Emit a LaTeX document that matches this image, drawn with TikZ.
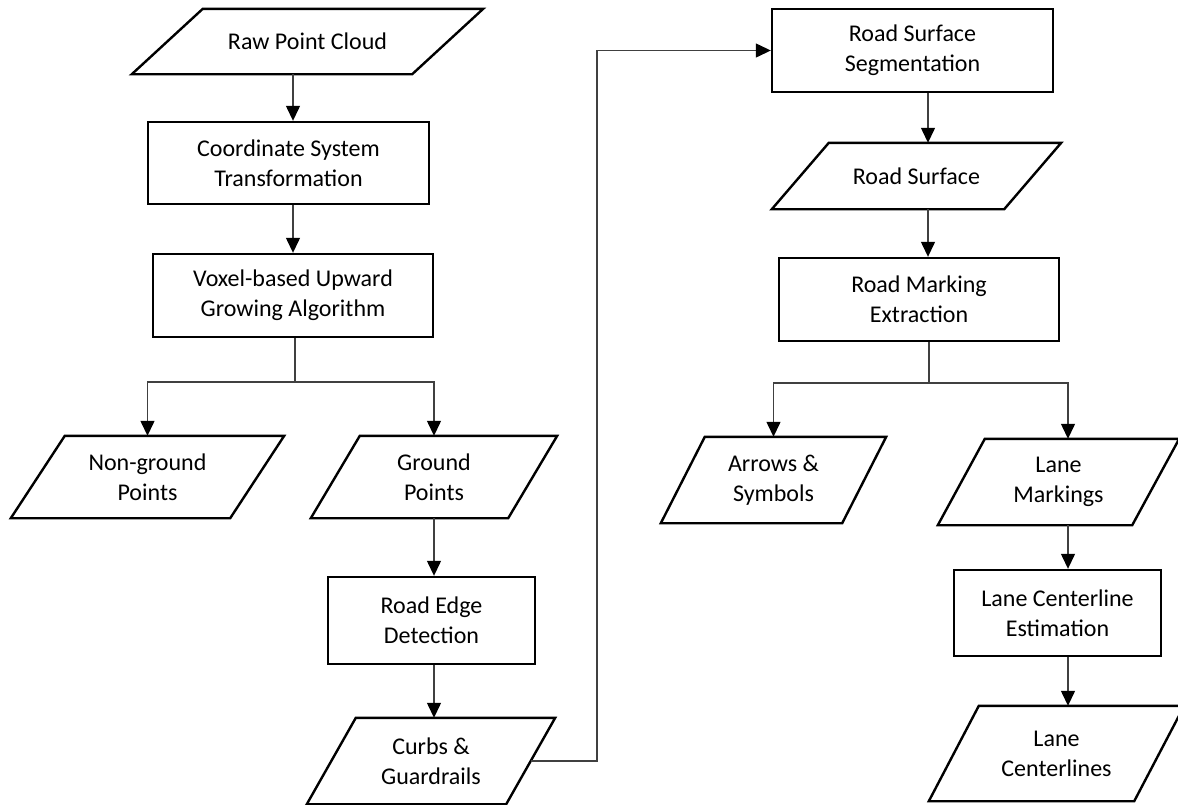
\documentclass[tikz,border=0pt]{standalone}
\usepackage{fontspec}
\setmainfont{Carlito}
\usepackage{tikz}
\usetikzlibrary{arrows.meta}

\definecolor{linkgray}{HTML}{404040}

\tikzset{
  process/.style={draw, line width=1.2pt, rectangle, align=center, inner sep=2pt},
  data/.style={rectangle, align=center, inner sep=2pt, outer sep=0.6pt,
    append after command={\pgfextra{\draw[line width=1.2pt, line join=miter]
      ([xshift=-#1]\tikzlastnode.south west) -- ([xshift=#1]\tikzlastnode.north west)
      -- ([xshift=#1]\tikzlastnode.north east) -- ([xshift=-#1]\tikzlastnode.south east) -- cycle;}}},
  link/.style={draw=linkgray, line width=0.65pt},
  arr/.style={link, -{Triangle[length=7.5pt,width=7pt,color=black]}},
}

\begin{document}
\begin{tikzpicture}[x=0.5pt, y=-0.5pt, font=\fontsize{12}{15}\selectfont]
    \useasboundingbox (0,0) rectangle (1178,804);
    \clip (0,0) rectangle (1178,804);

    % left column
    \node[data=17.75pt, minimum width=139pt, minimum height=31.5pt] (raw) at (307.5,41.5) {Raw Point Cloud};
    \node[process, minimum width=140.5pt, minimum height=41pt] (coord) at (288.5,163) {Coordinate System\\Transformation};
    \node[process, minimum width=140pt, minimum height=41.5pt] (voxel) at (293,295.5) {Voxel-based Upward\\Growing Algorithm};
    \node[data=13.5pt, minimum width=108.5pt, minimum height=40pt] (nonground) at (147.5,477) {Non-ground\\Points};
    \node[data=12.25pt, minimum width=97.5pt, minimum height=40pt] (ground) at (434,477) {Ground\\Points};
    \node[process, minimum width=103.5pt, minimum height=43.5pt] (edge) at (431.5,620.5) {Road Edge\\Detection};
    \node[data=12.25pt, minimum width=98.5pt, minimum height=42pt] (curbs) at (431,761) {Curbs \&\\Guardrails};

    % right column
    \node[process, minimum width=140.5pt, minimum height=41.5pt] (seg) at (912.5,50.5) {Road Surface\\Segmentation};
    \node[data=14.25pt, minimum width=115pt, minimum height=32pt] (surface) at (916.5,176) {Road Surface};
    \node[process, minimum width=140pt, minimum height=41.5pt] (marking) at (919,299.5) {Road Marking\\Extraction};
    \node[data=11pt, minimum width=89.5pt, minimum height=42pt] (symbols) at (773.5,480) {Arrows \&\\Symbols};
    \node[data=11.75pt, minimum width=96pt, minimum height=42pt] (lanemark) at (1058.5,482) {Lane\\Markings};
    \node[process, minimum width=103.5pt, minimum height=43pt] (centerest) at (1057.5,613) {Lane Centerline\\Estimation};
    \node[data=12.5pt, minimum width=101.5pt, minimum height=46.5pt] (centerlines) at (1056.5,753.5) {Lane\\Centerlines};

    \coordinate (split1) at (295,382);
    \coordinate (split2) at (929,383);
    \coordinate (bend) at (597,400);
    \coordinate (rspine) at (928,0);
    \coordinate (lspine) at (1068,0);

    \draw[arr] (raw.south -| voxel.north) -- (coord.north -| voxel.north);
    \draw[arr] (coord.south -| voxel.north) -- (voxel.north);
    \draw[link] (voxel.south -| split1) -- (split1);
    \draw[arr] (split1) -| (nonground.north);
    \draw[arr] (split1) -| (ground.north);
    \draw[arr] (ground.south) -- (edge.north -| ground.south);
    \draw[arr] (edge.south -| ground.south) -- (curbs.north -| ground.south);
    \draw[arr] (curbs.east) -| (bend) |- (seg.west);

    \draw[arr] (seg.south -| rspine) -- (surface.north -| rspine);
    \draw[arr] (surface.south -| rspine) -- (marking.north -| rspine);
    \draw[link] (marking.south -| split2) -- (split2);
    \draw[arr] (split2) -| (symbols.north);
    \draw[arr] (split2) -| (lanemark.north -| lspine);
    \draw[arr] (lanemark.south -| lspine) -- (centerest.north -| lspine);
    \draw[arr] (centerest.south -| lspine) -- (centerlines.north -| lspine);

\end{tikzpicture}
\end{document}
